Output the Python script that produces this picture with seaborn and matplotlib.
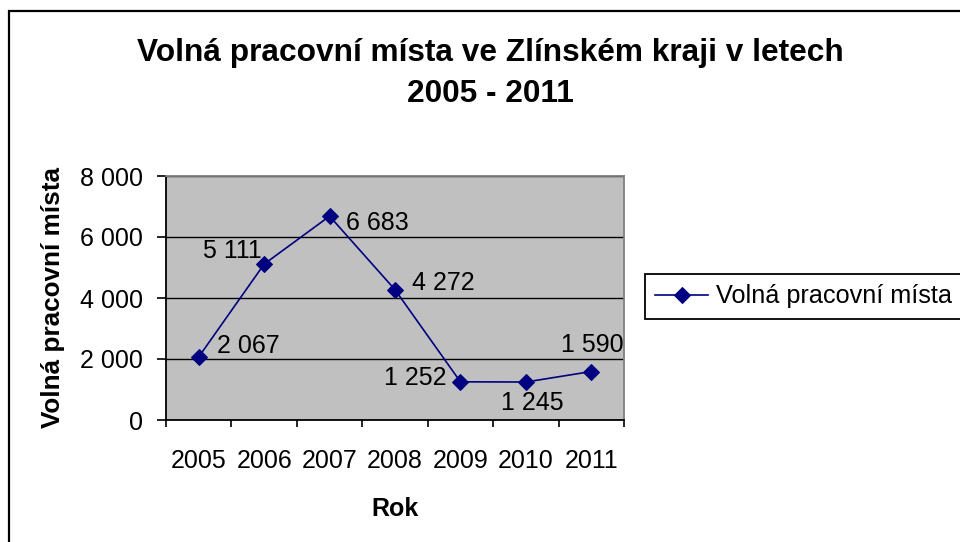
import numpy as np
import pandas as pd
import matplotlib.pyplot as plt
import seaborn as sns
from matplotlib.patches import Rectangle

years = ["2005", "2006", "2007", "2008", "2009", "2010", "2011"]
vacancies = [2067, 5111, 6683, 4272, 1252, 1245, 1590]
value_labels = ["2 067", "5 111", "6 683", "4 272", "1 252", "1 245", "1 590"]
y_ticks = [0, 2000, 4000, 6000, 8000]
y_tick_labels = ["0", "2 000", "4 000", "6 000", "8 000"]

# where each data label sits relative to its point (points), and alignment
label_offsets = [(13.5, 8), (-1.5, 9.5), (12, -5), (12, 4.5), (-10, 3), (4.5, -15), (0.5, 19)]
label_align = ["left", "right", "left", "left", "right", "center", "center"]

df = pd.DataFrame({"Rok": years, "Volná pracovní místa": vacancies})

plt.rcParams["font.family"] = ["Liberation Sans", "DejaVu Sans"]
navy = "#000080"
fs = 18

fig = plt.figure(figsize=(9.6, 5.42), dpi=100)
ax = fig.add_axes([166 / 960, 1 - 420 / 542, (624 - 166) / 960, (420 - 176) / 542])

sns.lineplot(
    data=df,
    x="Rok",
    y="Volná pracovní místa",
    marker="D",
    markersize=8,
    color=navy,
    linewidth=1.2,
    markeredgecolor=navy,
    sort=False,
    label="Volná pracovní místa",
    ax=ax,
)

ax.set_facecolor("#C0C0C0")
ax.set_xlim(-0.5, len(years) - 0.5)
ax.set_ylim(0, 8000)
ax.set_yticks(y_ticks)
ax.set_yticklabels(y_tick_labels, fontsize=fs)
ax.set_xticks(range(len(years)))
ax.set_xticklabels(years, fontsize=fs)
ax.set_xticks(np.arange(-0.5, len(years), 1), minor=True)
ax.tick_params(axis="x", which="major", length=0, pad=21)
ax.tick_params(axis="x", which="minor", length=5, width=1.2, color="black")
ax.tick_params(axis="y", length=6.5, width=1.2, pad=10)
ax.set_axisbelow(True)
ax.yaxis.grid(True, color="black", linewidth=1)
ax.xaxis.grid(False)

for side in ["left", "bottom"]:
    ax.spines[side].set_color("black")
    ax.spines[side].set_linewidth(1.3)
for side in ["top", "right"]:
    ax.spines[side].set_color("#808080")
    ax.spines[side].set_linewidth(1.3)

for i, (v, txt) in enumerate(zip(vacancies, value_labels)):
    ax.annotate(txt, xy=(i, v), xytext=label_offsets[i], textcoords="offset points",
                ha=label_align[i], va="center", fontsize=fs, color="black")

ax.set_xlabel("Rok", fontsize=18, fontweight="bold", labelpad=17)
ax.set_ylabel("Volná pracovní místa", fontsize=18.8, fontweight="bold", labelpad=11)

fig.text(490 / 960, 1 - 73.5 / 542, "Volná pracovní místa ve Zlínském kraji v letech\n2005 - 2011",
         ha="center", va="center", fontsize=22.8, fontweight="bold", linespacing=1.52)

leg = ax.legend(loc="center left", bbox_to_anchor=(645 / 960, 1 - 296.5 / 542),
                bbox_transform=fig.transFigure, fontsize=18.2, frameon=True, fancybox=False,
                edgecolor="black", framealpha=1, borderpad=0.4, borderaxespad=0,
                handlelength=2.1, handletextpad=0.3)
leg.get_frame().set_linewidth(1.3)

fig.patches.append(Rectangle((9 / 960, -0.1), 1.2, 1.1 - 11 / 542, transform=fig.transFigure,
                             fill=False, edgecolor="black", linewidth=1.6))

plt.savefig("out.png", dpi=100)
